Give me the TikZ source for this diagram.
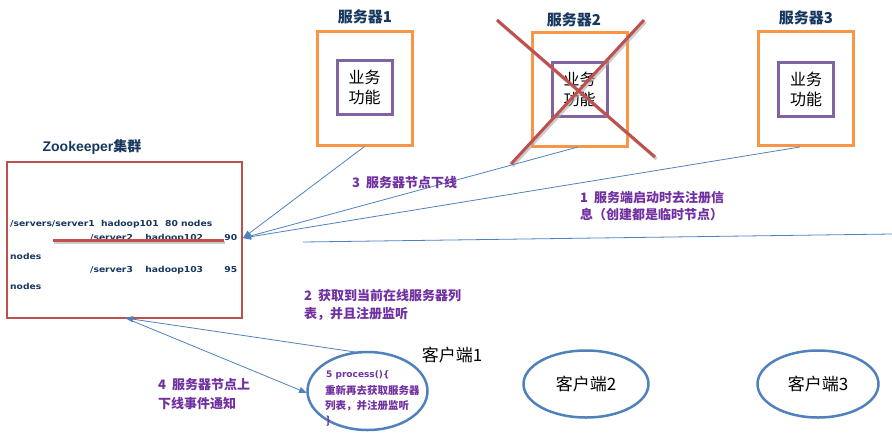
\documentclass[tikz,border=0pt]{standalone}
\usepackage{fontspec}
\usepackage{graphicx}
\setmainfont{Liberation Sans}
\newfontfamily\cjk{Noto Sans CJK SC}
\newfontfamily\mono{DejaVu Sans}
\usetikzlibrary{arrows.meta,shapes.geometric}
\definecolor{orng}{RGB}{247,150,70}
\definecolor{purp}{RGB}{128,100,162}
\definecolor{redb}{RGB}{192,80,77}
\definecolor{blu}{RGB}{79,129,189}
\definecolor{txtp}{RGB}{112,48,160}
\definecolor{navy}{RGB}{23,55,94}
\definecolor{shad}{RGB}{170,170,170}
\newcommand{\zkw}[1]{\scalebox{1.12}[1]{#1}}
\begin{document}
\begin{tikzpicture}[x=1pt,y=-1pt,
 srvbox/.style={draw=orng,line width=3pt,minimum width=95pt,minimum height=114pt,inner sep=0},
 funcbox/.style={draw=purp,line width=3pt,minimum width=55pt,minimum height=54pt,inner sep=0,font=\cjk\fontsize{16}{20}\selectfont,align=center},
 srvlabel/.style={font=\cjk\bfseries\fontsize{15}{18}\selectfont,text=navy,inner sep=0},
 conn/.style={draw=blu,line width=0.8pt},
 arr/.style={conn,-{Triangle[length=8pt,width=6pt]}},
 steplabel/.style={font=\cjk\bfseries\fontsize{13}{16}\selectfont,text=txtp,anchor=west,inner sep=0},
 zktext/.style={font=\mono\bfseries\fontsize{8.2}{10}\selectfont,text=navy,anchor=west,inner sep=0},
 client/.style={ellipse,draw=blu,line width=2.5pt,inner sep=0},
 clabel/.style={font=\cjk\fontsize{17}{20}\selectfont,inner sep=0},
 ctext/.style={font=\cjk\bfseries\fontsize{10.5}{13}\selectfont,text=txtp,anchor=west,inner sep=0},
 redline/.style={draw=redb,line width=3pt},
 shadline/.style={draw=shad,line width=3pt,opacity=0.6}
]
\useasboundingbox (0,0) rectangle (892,440);

% servers
\node[srvbox] (s1) at (364.5,88) {};
\node[funcbox] (f1) at (364.5,87.5) {业务\\功能};
\node[srvlabel] (l1) at (365,17) {服务器1};

\node[srvbox] (s2) at (580,89) {};
\node[funcbox] (f2) at (579.5,89) {业务\\功能};
\node[srvlabel] (l2) at (574,20) {服务器2};

\node[srvbox] (s3) at (806,88.5) {};
\node[funcbox] (f3) at (806,89) {业务\\功能};
\node[srvlabel] (l3) at (806,18) {服务器3};

% red cross over server 2
\coordinate (xa1) at (497,20);
\coordinate (xa2) at (655,157);
\coordinate (xb1) at (644,20);
\coordinate (xb2) at (511,164);
\draw[shadline] ([shift={(1.5,2)}]xa1) -- ([shift={(1.5,2)}]xa2);
\draw[shadline] ([shift={(1.5,2)}]xb1) -- ([shift={(1.5,2)}]xb2);
\draw[redline] (xa1) -- (xa2);
\draw[redline] (xb1) -- (xb2);

% zookeeper cluster
\node[draw=redb,line width=2.5pt,minimum width=235pt,minimum height=156pt,inner sep=0] (zk) at (124.5,240) {};
\node[font=\bfseries\fontsize{14}{16}\selectfont,text=navy,inner sep=0] (zkl) at (92,147) {Zookeeper{\cjk 集群}};
\node[zktext] (z1) at (10,224) {\zkw{/servers/server1\ \ hadoop101\ \ 80 nodes}};
\node[zktext] (z2) at (90,238.5) {\hbox to 147pt{\zkw{/server2}\hskip 0pt plus 1fil\zkw{hadoop102}\hskip 0pt plus 1.7fil\zkw{90}}};
\node[zktext] (z3) at (10,256) {\zkw{nodes}};
\node[zktext] (z4) at (90,270) {\hbox to 147pt{\zkw{/server3}\hskip 0pt plus 1fil\zkw{hadoop103}\hskip 0pt plus 1.7fil\zkw{95}}};
\node[zktext] (z5) at (10,286) {\zkw{nodes}};
\coordinate (st1) at (53,240);
\coordinate (st2) at (224,240);
\draw[shadline] ([shift={(1,2.5)}]st1) -- ([shift={(1,2.5)}]st2);
\draw[redline] (st1) -- (st2);

% connectors to zookeeper
\coordinate (zin) at (243,238);
\coordinate (s2out) at (578,147);
\coordinate (s3out) at (800,147);
\draw[arr] (s1.south) -- (zin);
\draw[arr] (s2out) -- (zin);
\draw[arr] (s3out) -- (zin);
\coordinate (hl1) at (303,242);
\coordinate (hl2) at (892,234);
\draw[conn] (hl1) -- (hl2);

% step labels
\node[steplabel] (t3) at (352,183) {3\ \ 服务器节点下线};
\node[steplabel] (t1a) at (580,198) {1\ \ 服务端启动时去注册信};
\node[steplabel] (t1b) at (580,215) {息（创建都是临时节点）};
\node[steplabel] (t2a) at (304,296) {2\ \ 获取到当前在线服务器列};
\node[steplabel] (t2b) at (304,314) {表，并且注册监听};
\node[steplabel] (t4a) at (158,385) {4\ \ 服务器节点上};
\node[steplabel] (t4b) at (158,404) {下线事件通知};

% clients
\node[client,minimum width=120pt,minimum height=78pt] (c1) at (367.5,391) {};
\node[clabel] (c1l) at (452,355) {客户端1};
\node[ctext,font=\mono\bfseries\fontsize{9}{11}\selectfont] (c1a) at (326,375) {5 process()\{};
\node[ctext] (c1b) at (325,390) {重新再去获取服务器};
\node[ctext] (c1c) at (325,406) {列表，并注册监听};
\node[ctext] (c1d) at (326,421) {\}};

\node[client,minimum width=125pt,minimum height=67pt] (c2) at (586,384) {};
\node[clabel] (c2l) at (586,384) {客户端2};
\node[client,minimum width=121pt,minimum height=67pt] (c3) at (818,384) {};
\node[clabel] (c3l) at (818,384) {客户端3};

% client connectors
\coordinate (c1top) at (362,353);
\coordinate (zkb1) at (125,318);
\coordinate (zkb2) at (130,320);
\coordinate (c1w) at (307,393);
\draw[arr] (c1top) -- (zkb1);
\draw[arr] (zkb2) -- (c1w);
\end{tikzpicture}
\end{document}
